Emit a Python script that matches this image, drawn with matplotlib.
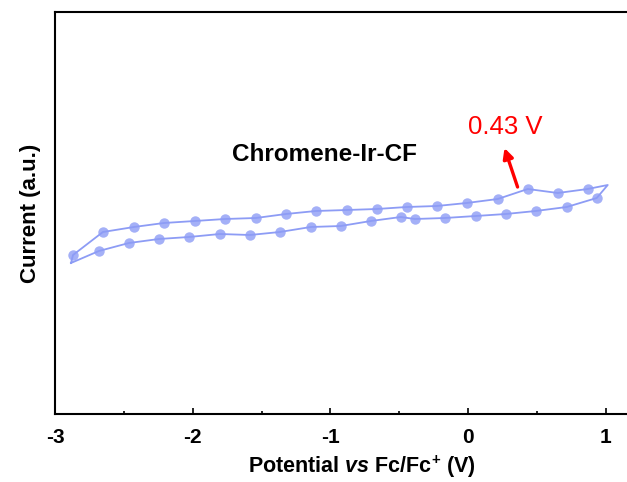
import matplotlib
matplotlib.use("Agg")
import matplotlib.pyplot as plt

plt.rcParams["font.family"] = ["Liberation Sans", "DejaVu Sans"]
plt.rcParams["mathtext.fontset"] = "custom"
plt.rcParams["mathtext.rm"] = "Liberation Sans:bold"
plt.rcParams["mathtext.it"] = "Liberation Sans:italic:bold"
plt.rcParams["mathtext.bf"] = "Liberation Sans:bold"

# CV loop (current in arbitrary units)
# forward sweep (lower branch), left tip -> right tip
fwd_potential = [-2.884, -2.681, -2.463, -2.245, -2.027, -1.802, -1.584, -1.367,
                 -1.142, -0.924, -0.706, -0.488, -0.387, -0.169, 0.056, 0.274,
                 0.492, 0.717, 0.935, 1.015]
fwd_current = [1.51, 1.63, 1.71, 1.75, 1.77, 1.80, 1.79, 1.82,
               1.87, 1.88, 1.93, 1.97, 1.95, 1.96, 1.98, 2.00,
               2.03, 2.07, 2.16, 2.29]
# reverse sweep (upper branch), right tip -> left tip
rev_potential = [1.015, 0.869, 0.652, 0.434, 0.216, -0.009, -0.227, -0.445,
                 -0.662, -0.880, -1.105, -1.323, -1.541, -1.766, -1.984, -2.209,
                 -2.427, -2.652, -2.869, -2.884]
rev_current = [2.29, 2.25, 2.21, 2.25, 2.15, 2.11, 2.08, 2.07,
               2.05, 2.04, 2.03, 2.00, 1.96, 1.95, 1.93, 1.91,
               1.87, 1.82, 1.59, 1.51]

# marker positions along the loop
mk_fwd_potential = fwd_potential[1:-1]
mk_fwd_current = fwd_current[1:-1]
mk_rev_potential = rev_potential[1:-1]
mk_rev_current = rev_current[1:-1]

peak_label = "0.43 V"
sample_name = "Chromene-Ir-CF"

color = "#8d9cf5"

fig = plt.figure(figsize=(6.27, 4.82), dpi=100)
ax = fig.add_axes([55 / 627, 68 / 482, (669 - 55) / 627, 402 / 482])

ax.plot(fwd_potential + rev_potential[1:], fwd_current + rev_current[1:],
        color=color, linewidth=1.3)
ax.plot(mk_fwd_potential + mk_rev_potential, mk_fwd_current + mk_rev_current,
        linestyle="none", marker="o", markersize=7.5, color=color,
        alpha=0.8, markeredgewidth=0)

ax.set_xlim(-3, 1.46)
ax.set_ylim(0, 4.02)
ax.set_yticks([])
ax.set_xticks([-3, -2, -1, 0, 1])
ax.set_xticklabels(["-3", "-2", "-1", "0", "1"])
ax.set_xticks([-2.5, -1.5, -0.5, 0.5], minor=True)
ax.tick_params(axis="x", which="major", direction="in", length=4, width=1.2,
               labelsize=15, pad=10)
ax.tick_params(axis="x", which="minor", direction="in", length=2.5, width=1.2)
for lbl in ax.get_xticklabels():
    lbl.set_fontweight("bold")
for sp in ax.spines.values():
    sp.set_linewidth(1.5)

ax.set_xlabel(r"Potential $\it{vs}$ Fc/Fc$^{+}$ (V)", fontsize=15.5,
              fontweight="bold", labelpad=5)
ax.set_ylabel("Current (a.u.)", fontsize=16, fontweight="bold", labelpad=10)

ax.text(-1.04, 2.59, sample_name, fontsize=17.5, fontweight="bold",
        ha="center", va="center")
ax.annotate("", xy=(0.265, 2.66), xytext=(0.36, 2.27),
            arrowprops=dict(arrowstyle="-|>,head_length=0.6,head_width=0.3",
                            color="red", lw=2.4, shrinkA=0, shrinkB=0))
ax.text(0.27, 2.87, peak_label, fontsize=18.5, color="red",
        ha="center", va="center")

fig.savefig("out.png", dpi=100)
